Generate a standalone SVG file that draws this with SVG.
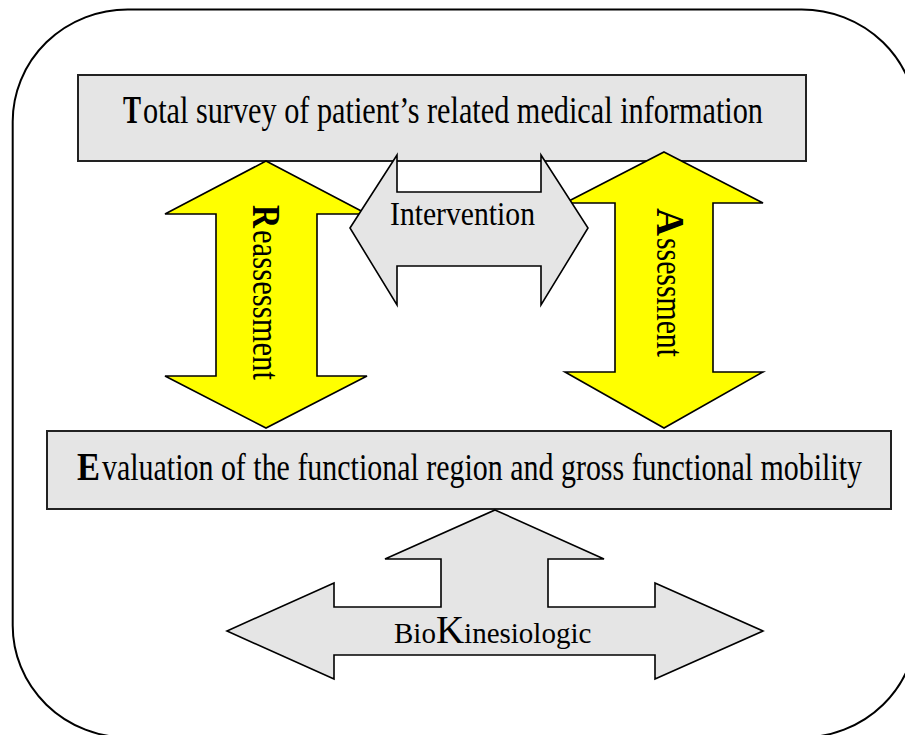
<svg xmlns="http://www.w3.org/2000/svg" width="905" height="735" viewBox="0 0 905 735">
<style>
.box{fill:#e5e5e5;stroke:#222;stroke-width:2}
.ya{fill:#ffff00;stroke:#000;stroke-width:1.6;stroke-linejoin:miter}
.ga{fill:#e5e5e5;stroke:#000;stroke-width:1.6;stroke-linejoin:miter}
text{font-family:"Liberation Serif","Times New Roman",serif;fill:#000}
.lab{font-size:30px}
.cap{font-size:31px;font-weight:bold}
</style>
<rect x="12.7" y="9.5" width="904" height="728" rx="115" ry="112" fill="#fff" stroke="#000" stroke-width="2"/>
<g id="top-box">
<rect class="box" x="78" y="75" width="728" height="86"/>
<text class="cap" transform="translate(123,123) scale(1,1.3)" textLength="18" lengthAdjust="spacingAndGlyphs">T</text>
<text class="lab" transform="translate(143,123) scale(1,1.27)" textLength="620" lengthAdjust="spacingAndGlyphs">otal survey of patient’s related medical information</text>
</g>
<g id="bottom-box">
<rect class="box" x="47" y="431" width="844" height="78"/>
<text class="cap" transform="translate(77,480) scale(1,1.3)" textLength="23" lengthAdjust="spacingAndGlyphs">E</text>
<text class="lab" transform="translate(102,480) scale(1,1.27)" textLength="760" lengthAdjust="spacingAndGlyphs">valuation of the functional region and gross functional mobility</text>
</g>
<g id="connectors">
<g id="reassessment">
<path class="ya" d="M266,161 L367,214 L317,214 L317,376 L367,376 L266,428 L165,376 L216,376 L216,214 L165,214 Z"/>
<text class="cap" transform="translate(253,205) rotate(90) scale(1,1.3)" textLength="23" lengthAdjust="spacingAndGlyphs">R</text>
<text class="lab" transform="translate(253,230) rotate(90) scale(1,1.27)" textLength="150" lengthAdjust="spacingAndGlyphs">eassessment</text>
</g>
<g id="assessment">
<path class="ya" d="M664,152 L763,203 L713,203 L713,372 L763,372 L664,428 L565,372 L615,372 L615,203 L565,203 Z"/>
<text class="cap" transform="translate(657,208) rotate(90) scale(1,1.3)" textLength="28" lengthAdjust="spacingAndGlyphs">A</text>
<text class="lab" transform="translate(657,238) rotate(90) scale(1,1.27)" textLength="119" lengthAdjust="spacingAndGlyphs">ssessment</text>
</g>
<g id="intervention">
<path class="ga" d="M350,228 L397,155 L397,192 L541,192 L541,155 L588,228 L541,305 L541,266 L397,266 L397,305 Z"/>
<text transform="translate(390,225) scale(1,1.1)" font-size="30" textLength="145" lengthAdjust="spacingAndGlyphs">Intervention</text>
</g>
<g id="biokinesiologic">
<path class="ga" d="M495,510 L604,559 L548,559 L548,607 L655,607 L655,583 L763,631 L655,679 L655,655 L334,655 L334,679 L227,631 L334,583 L334,607 L441,607 L441,559 L385,559 Z"/>
<text x="394" y="643" font-size="29">Bio<tspan font-size="39">K</tspan>inesiologic</text>
</g>
</g>
</svg>
